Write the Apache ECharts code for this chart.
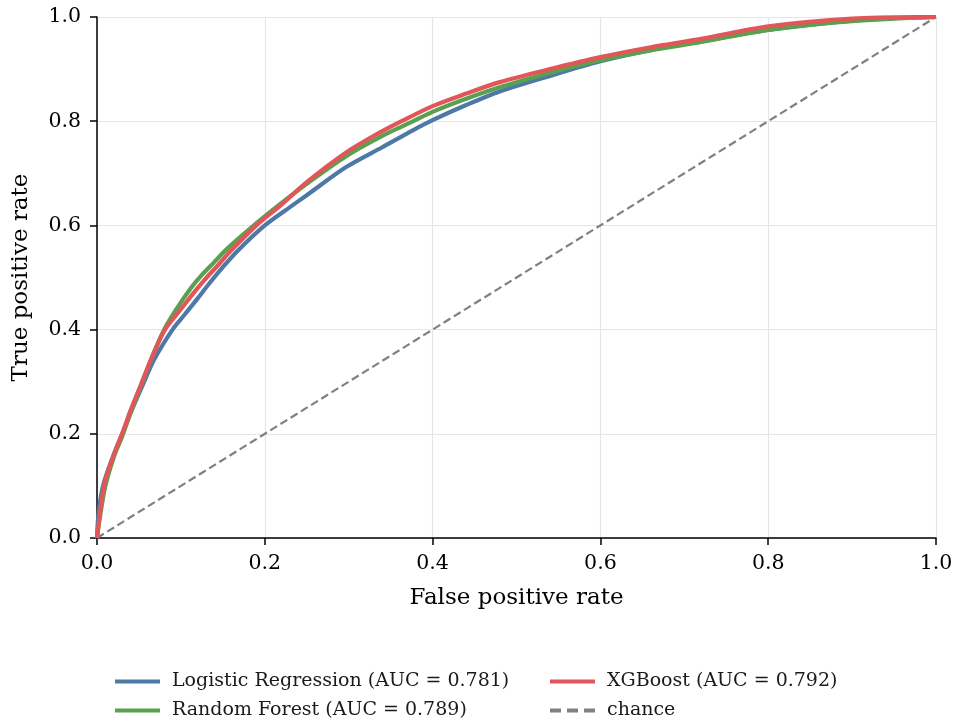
<!DOCTYPE html>
<html>
<head>
<meta charset="utf-8">
<script src="https://cdn.jsdelivr.net/npm/echarts@6/dist/echarts.min.js"></script>
<style>html,body{margin:0;padding:0;background:#fff;}#c{width:956px;height:725px;}</style>
</head>
<body>
<div id="c"></div>
<script>
const names = ['Logistic Regression (AUC = 0.781)', 'Random Forest (AUC = 0.789)', 'XGBoost (AUC = 0.792)', 'chance'];
const tickLabels = ['0.0','0.2','0.4','0.6','0.8','1.0'];
const lrRoc = [[0,0],[0.002,0.05],[0.008,0.105],[0.02,0.16],[0.03,0.2],[0.04,0.24],[0.054,0.292],[0.068,0.342],[0.09,0.4],[0.105,0.43],[0.12,0.46],[0.134,0.489],[0.15,0.52],[0.168,0.552],[0.2,0.6],[0.23,0.635],[0.25,0.658],[0.297,0.712],[0.34,0.75],[0.377,0.783],[0.4,0.802],[0.44,0.831],[0.48,0.857],[0.54,0.887],[0.6,0.915],[0.66,0.937],[0.72,0.953],[0.8,0.975],[0.9,0.993],[1,1]];
const rfRoc = [[0,0],[0.003,0.035],[0.01,0.1],[0.02,0.155],[0.03,0.195],[0.04,0.24],[0.053,0.295],[0.065,0.345],[0.08,0.4],[0.097,0.445],[0.112,0.48],[0.125,0.505],[0.14,0.53],[0.155,0.555],[0.187,0.6],[0.22,0.643],[0.25,0.68],[0.297,0.733],[0.34,0.772],[0.377,0.8],[0.4,0.818],[0.44,0.843],[0.48,0.865],[0.54,0.893],[0.6,0.917],[0.66,0.936],[0.72,0.952],[0.8,0.975],[0.9,0.992],[1,1]];
const xgbRoc = [[0,0],[0.003,0.04],[0.009,0.105],[0.02,0.16],[0.03,0.2],[0.04,0.245],[0.053,0.297],[0.065,0.345],[0.081,0.4],[0.099,0.437],[0.115,0.47],[0.128,0.495],[0.145,0.525],[0.16,0.552],[0.19,0.6],[0.22,0.64],[0.25,0.683],[0.297,0.74],[0.33,0.772],[0.363,0.8],[0.4,0.829],[0.44,0.853],[0.48,0.875],[0.54,0.90],[0.6,0.923],[0.66,0.942],[0.72,0.958],[0.8,0.982],[0.9,0.997],[1,1]];
const chance = [[0,0],[1,1]];

const serif = 'DejaVu Serif';
const colors = ['#4e79a7', '#59a14f', '#e15759', '#808080'];
const chart = echarts.init(document.getElementById('c'), null, {renderer:'canvas'});
const curve = (name, data, color) => ({
  name, type:'line', data, showSymbol:false, symbol:'none', smooth:0.3,
  lineStyle:{color, width:4.2}, itemStyle:{color}, z:3, animation:false
});
const solidIcon = 'path://M0,0h45v4h-45z';
const dashIcon = 'path://M0,0h11v4h-11z M17,0h11v4h-11z M34,0h11v4h-11z';
const legendAt = (name, icon, left, top) => ({
  data:[{name, icon}], orient:'horizontal', left, top, itemWidth:45, itemHeight:4,
  selectedMode:false, padding:0,
  textStyle:{fontFamily:serif, fontSize:19, color:'#1a1a1a', padding:[0,0,0,7]}
});
const axisCommon = {
  type:'value', min:0, max:1, interval:0.2,
  axisLine:{show:true, lineStyle:{color:'#000', width:1.5}},
  axisTick:{show:true, length:7, lineStyle:{color:'#000', width:1.5}},
  splitLine:{show:true, lineStyle:{color:'#e5e5e5', width:1.2}}
};
chart.setOption({
  animation:false,
  backgroundColor:'#fff',
  grid:{left:97, right:20, top:17, bottom:187, containLabel:false},
  xAxis:Object.assign({}, axisCommon, {
    name:'False positive rate', nameLocation:'middle', nameGap:49,
    nameTextStyle:{fontFamily:serif, fontSize:23, color:'#000'},
    axisLabel:{fontFamily:serif, fontSize:20.5, color:'#000', margin:15,
      formatter:v=>tickLabels[Math.round(v*5)]}
  }),
  yAxis:Object.assign({}, axisCommon, {
    name:'True positive rate', nameLocation:'middle', nameGap:64, nameRotate:90,
    nameTextStyle:{fontFamily:serif, fontSize:23, color:'#000'},
    axisLabel:{fontFamily:serif, fontSize:20.5, color:'#000', margin:16,
      formatter:v=>tickLabels[Math.round(v*5)]}
  }),
  legend:[
    legendAt(names[0], solidIcon, 115, 672),
    legendAt(names[1], solidIcon, 115, 701),
    legendAt(names[2], solidIcon, 550, 672),
    legendAt(names[3], dashIcon, 550, 701)
  ],
  series:[
    curve(names[0], lrRoc, colors[0]),
    curve(names[1], rfRoc, colors[1]),
    curve(names[2], xgbRoc, colors[2]),
    {name:names[3], type:'line', data:chance, showSymbol:false, symbol:'none',
     lineStyle:{color:colors[3], width:2.2, type:[8,4]}, itemStyle:{color:colors[3]}, z:2}
  ]
});
</script>
</body>
</html>
